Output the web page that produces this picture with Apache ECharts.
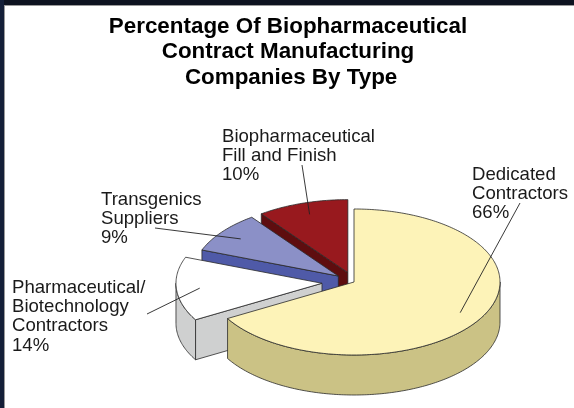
<!DOCTYPE html>
<html>
<head>
<meta charset="utf-8">
<style>
  html, body { margin: 0; padding: 0; background: #fff; }
  #main { width: 574px; height: 408px; }
</style>
</head>
<body>
<div id="main"></div>
<script src="https://cdn.jsdelivr.net/npm/echarts@6/dist/echarts.min.js"></script>
<script>
const categories = ['Dedicated\nContractors', 'Pharmaceutical/\nBiotechnology\nContractors', 'Transgenics\nSuppliers', 'Biopharmaceutical\nFill and Finish'];
const values = [66, 14, 9, 10];
const topColors = ['#fdf3b8', '#ffffff', '#8b90c7', '#98191e'];
const sideColors = ['#cbc285', '#cfd0d0', '#4f5aa8', '#5e0d0f'];
const explode = [0, 0.22, 0.135, 0.135]; // pulled out from the pie centre, as part of the radius
const labelPos = [[472, 165], [12, 278], [101, 190], [222, 127]];
const leaderEnd = [[520, 203], [147, 314], [155, 228], [302, 165]];

// pie geometry
const cx = 354, cy = 282, rx = 146, ry = 73, depth = 40;
const leaderAt = 0.84;

const chart = echarts.init(document.getElementById('main'));
const total = values.reduce((a, b) => a + b, 0);

function pt(c, deg, dy) {
  const a = deg * Math.PI / 180;
  return [c[0] + Math.sin(a) * rx, c[1] - Math.cos(a) * ry + (dy || 0)];
}

function renderSlice(params, api) {
  const i = api.value(0);
  const start = values.slice(0, i).reduce((a, b) => a + b, 0) / total * 360;
  const end = start + api.value(1) / total * 360;
  const mid = (start + end) / 2;
  const m = mid * Math.PI / 180;
  const c = [cx + Math.sin(m) * rx * explode[i], cy - Math.cos(m) * ry * explode[i]];
  const z = (values.length - i) * 10;
  const line = { stroke: '#2a2a2a', lineWidth: 0.8 };
  const children = [];

  function face(points, fill) {
    children.push({ type: 'polygon', z2: z, shape: { points: points }, style: Object.assign({ fill: fill }, line) });
  }

  function wall(deg) {
    const p = pt(c, deg);
    face([c, p, [p[0], p[1] + depth], [c[0], c[1] + depth]], sideColors[i]);
  }

  // radial walls, the others sit behind the slice's own top
  if (start > 180) wall(start);
  if (end < 180) wall(end);

  // outer wall, only the part that faces the viewer
  const from = Math.max(start, 90), to = Math.min(end, 270);
  if (to > from) {
    const upper = [], lower = [];
    for (let d = from; d <= to; d += 1) {
      upper.push(pt(c, d));
      lower.unshift(pt(c, d, depth));
    }
    face(upper.concat(lower), sideColors[i]);
  }

  // top of the slice
  const top = [c];
  for (let d = start; d < end; d += 1) top.push(pt(c, d));
  top.push(pt(c, end));
  face(top, topColors[i]);

  // leader line and label stay above all the slices
  children.push({
    type: 'line',
    z2: 100,
    shape: {
      x1: leaderEnd[i][0], y1: leaderEnd[i][1],
      x2: c[0] + Math.sin(m) * rx * leaderAt, y2: c[1] - Math.cos(m) * ry * leaderAt
    },
    style: { stroke: '#222', lineWidth: 0.9 }
  });
  children.push({
    type: 'text',
    z2: 100,
    x: labelPos[i][0],
    y: labelPos[i][1],
    style: {
      text: categories[i] + '\n' + api.value(1) + '%',
      font: '18.6px "Liberation Sans", Arial, sans-serif',
      lineHeight: 19.3,
      fill: '#1a1a1a'
    }
  });
  return { type: 'group', children: children };
}

chart.setOption({
  animation: false,
  backgroundColor: '#fff',
  title: {
    text: 'Percentage Of Biopharmaceutical\nContract Manufacturing\n Companies By Type',
    left: 283,
    top: 9,
    textAlign: 'center',
    textStyle: {
      fontFamily: '"Liberation Sans", Arial, sans-serif',
      fontSize: 22.4,
      fontWeight: 'bold',
      lineHeight: 25.5,
      color: '#000'
    }
  },
  graphic: [
    { type: 'rect', shape: { x: 4, y: 5, width: 570, height: 1 }, style: { fill: '#9a9a9a' }, silent: true },
    { type: 'rect', shape: { x: 4, y: 5, width: 1, height: 403 }, style: { fill: '#9a9a9a' }, silent: true },
    { type: 'rect', shape: { x: 0, y: 0, width: 574, height: 5 }, style: { fill: '#0d1320' }, silent: true },
    { type: 'rect', shape: { x: 0, y: 0, width: 4, height: 408 }, style: { fill: '#141f38' }, silent: true }
  ],
  series: [{
    type: 'custom',
    coordinateSystem: 'none',
    silent: true,
    renderItem: renderSlice,
    data: values.map(function (v, i) { return [i, v]; })
  }]
});
</script>
</body>
</html>
